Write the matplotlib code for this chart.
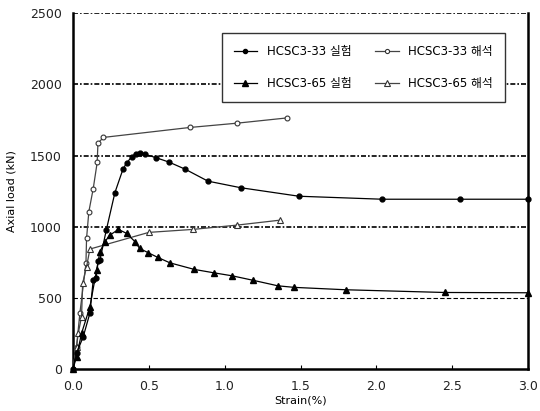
import matplotlib.pyplot as plt
import numpy as np

plt.rcParams['font.family'] = ['DejaVu Sans', 'Noto Sans CJK KR']

# HCSC3-33 test (filled circles)
s33_exp = [0.0, 0.024, 0.068, 0.112, 0.134, 0.152, 0.167, 0.178, 0.22, 0.277, 0.33, 0.354,
           0.387, 0.413, 0.44, 0.475, 0.55, 0.633, 0.74, 0.89, 1.105, 1.49, 2.04, 2.55, 3.0]
p33_exp = [0, 112, 227, 393, 625, 637, 760, 765, 976, 1240, 1404, 1448,
           1490, 1514, 1521, 1509, 1484, 1454, 1404, 1320, 1274, 1214, 1193, 1193, 1193]

# HCSC3-33 analysis (open circles)
s33_ana = [0.0, 0.024, 0.046, 0.086, 0.09, 0.105, 0.134, 0.16, 0.165, 0.2, 0.77, 1.08, 1.41]
p33_ana = [0, 157, 393, 742, 918, 1105, 1268, 1451, 1585, 1627, 1697, 1727, 1764]

# HCSC3-65 test (filled triangles)
s65_exp = [0.0, 0.024, 0.057, 0.112, 0.156, 0.178, 0.21, 0.244, 0.3, 0.354, 0.41, 0.44,
           0.497, 0.56, 0.64, 0.8, 0.93, 1.05, 1.19, 1.35, 1.457, 1.8, 2.45, 3.0]
p65_exp = [0, 86, 251, 437, 695, 824, 894, 941, 981, 953, 894, 847,
           817, 784, 746, 700, 676, 655, 623, 585, 574, 557, 538, 536]

# HCSC3-65 analysis (open triangles)
s65_ana = [0.0, 0.024, 0.035, 0.057, 0.064, 0.09, 0.112, 0.5, 0.79, 1.08, 1.365]
p65_ana = [0, 157, 251, 367, 602, 718, 843, 960, 981, 1011, 1046]

fig = plt.figure(figsize=(5.4, 4.11), dpi=100)
ax = fig.add_axes([0.135, 0.102, 0.843, 0.866])

l1, = ax.plot(s33_exp, p33_exp, color='black', lw=0.9, marker='o', ms=3.5,
              mfc='black', mec='black', clip_on=False, zorder=5, label='HCSC3-33 실험')
l2, = ax.plot(s33_ana, p33_ana, color='#444444', lw=0.9, marker='o', ms=3.5,
              mfc='white', mec='#333333', mew=0.8, zorder=4, label='HCSC3-33 해석')
l3, = ax.plot(s65_exp, p65_exp, color='black', lw=0.9, marker='^', ms=4.5,
              mfc='black', mec='black', clip_on=False, zorder=5, label='HCSC3-65 실험')
l4, = ax.plot(s65_ana, p65_ana, color='#444444', lw=0.9, marker='^', ms=4.5,
              mfc='white', mec='#333333', mew=0.8, zorder=4, label='HCSC3-65 해석')

ax.set_xlim(0, 3.0)
ax.set_ylim(0, 2500)
ax.set_xticks(np.arange(0, 3.01, 0.5))
ax.set_xticklabels([f'{v:.1f}' for v in np.arange(0, 3.01, 0.5)])
ax.set_yticks(np.arange(0, 2501, 500))

for yv in [1000, 1500, 2000, 2500]:
    ax.axhline(yv, color='black', lw=1.2, ls=(0, (3, 1.2, 1, 1.2)), zorder=1)
ax.axhline(500, color='black', lw=0.8, ls=(0, (4, 2)), zorder=1)

ax.spines['top'].set_visible(False)
for side in ['left', 'right', 'bottom']:
    ax.spines[side].set_linewidth(1.8)

ax.tick_params(axis='both', direction='in', length=3, labelsize=9, pad=8,
               labelcolor='#222222')
ax.tick_params(axis='y', length=0)

ax.set_xlabel('Strain(%)', fontsize=8, labelpad=2)
ax.set_ylabel('Axial load (kN)', fontsize=8, labelpad=10)

leg = ax.legend(handles=[l1, l3, l2, l4], ncol=2, loc='upper left',
                bbox_to_anchor=(0.327, 0.944), borderaxespad=0, fontsize=8.5,
                frameon=True, fancybox=False, edgecolor='#333333', framealpha=1,
                handlelength=2.0, columnspacing=2.0, labelspacing=1.6,
                borderpad=1.0, markerscale=0.85)
leg.get_frame().set_linewidth(1.0)

fig.savefig('out.png', dpi=100)
